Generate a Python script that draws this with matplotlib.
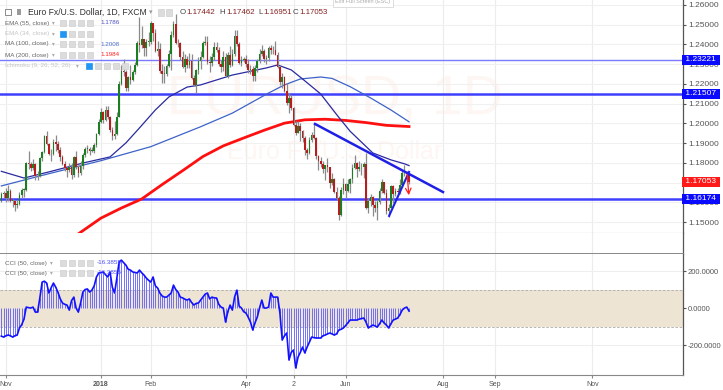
import matplotlib
matplotlib.use("Agg")
import matplotlib.pyplot as plt
import matplotlib.transforms as mtransforms
from matplotlib.patches import Rectangle
from matplotlib.ticker import MultipleLocator, FormatStrFormatter, FuncFormatter
import numpy as np
import pandas as pd

plt.rcParams['font.family'] = ['Liberation Sans', 'DejaVu Sans']

# EUR/USD daily bars (FXCM), 30 Oct 2017 .. 11 Jul 2018, open = previous close
first_open = 1.1608
highs = [1.1650, 1.1655, 1.1670, 1.1687, 1.1668, 1.1615, 1.1610, 1.1610, 1.1650, 1.1670,
         1.1670, 1.1805, 1.1862, 1.1805, 1.1820, 1.1800, 1.1760, 1.1830, 1.1860, 1.1940,
         1.1960, 1.1900, 1.1870, 1.1920, 1.1940, 1.1910, 1.1880, 1.1840, 1.1810, 1.1780,
         1.1800, 1.1800, 1.1835, 1.1860, 1.1790, 1.1810, 1.1850, 1.1880, 1.1890, 1.1880,
         1.1880, 1.1900, 1.1950, 1.2020, 1.2080, 1.2065, 1.2090, 1.2090, 1.2035, 1.1980,
         1.2010, 1.2060, 1.2215, 1.2295, 1.2325, 1.2270, 1.2240, 1.2295, 1.2270, 1.2310,
         1.2415, 1.2537, 1.2495, 1.2430, 1.2430, 1.2465, 1.2520, 1.2505, 1.2480, 1.2420,
         1.2405, 1.2300, 1.2290, 1.2300, 1.2370, 1.2470, 1.2520, 1.2556, 1.2430, 1.2410,
         1.2365, 1.2350, 1.2340, 1.2355, 1.2350, 1.2245, 1.2275, 1.2335, 1.2365, 1.2415,
         1.2445, 1.2445, 1.2340, 1.2355, 1.2410, 1.2410, 1.2385, 1.2320, 1.2365, 1.2355,
         1.2360, 1.2390, 1.2375, 1.2475, 1.2475, 1.2410, 1.2340, 1.2335, 1.2345, 1.2325,
         1.2295, 1.2290, 1.2295, 1.2325, 1.2375, 1.2395, 1.2375, 1.2345, 1.2390, 1.2395,
         1.2390, 1.2415, 1.2360, 1.2290, 1.2255, 1.2240, 1.2205, 1.2155, 1.2145, 1.2085,
         1.2010, 1.2010, 1.2000, 1.1965, 1.1935, 1.1875, 1.1930, 1.1955, 1.1995, 1.1930,
         1.1840, 1.1830, 1.1810, 1.1790, 1.1825, 1.1780, 1.1750, 1.1725, 1.1680, 1.1630,
         1.1680, 1.1725, 1.1700, 1.1720, 1.1725, 1.1795, 1.1840, 1.1805, 1.1810, 1.1800,
         1.1805, 1.1850, 1.1620, 1.1640, 1.1630, 1.1605, 1.1610, 1.1670, 1.1720, 1.1705,
         1.1665, 1.1590, 1.1690, 1.1690, 1.1670, 1.1670, 1.1720, 1.1765, 1.1790, 1.1760,
         1.17462]
lows = [1.1600, 1.1620, 1.1600, 1.1605, 1.1600, 1.1575, 1.1554, 1.1570, 1.1585, 1.1620,
        1.1625, 1.1655, 1.1770, 1.1760, 1.1765, 1.1715, 1.1715, 1.1730, 1.1810, 1.1850,
        1.1890, 1.1840, 1.1810, 1.1840, 1.1860, 1.1850, 1.1810, 1.1790, 1.1760, 1.1730,
        1.1755, 1.1720, 1.1730, 1.1770, 1.1730, 1.1740, 1.1770, 1.1830, 1.1850, 1.1840,
        1.1855, 1.1850, 1.1880, 1.1940, 1.2000, 1.2000, 1.2010, 1.2020, 1.1955, 1.1915,
        1.1920, 1.1940, 1.2030, 1.2195, 1.2240, 1.2165, 1.2165, 1.2200, 1.2215, 1.2250,
        1.2290, 1.2360, 1.2380, 1.2340, 1.2340, 1.2390, 1.2400, 1.2420, 1.2360, 1.2340,
        1.2255, 1.2205, 1.2205, 1.2240, 1.2285, 1.2270, 1.2440, 1.2400, 1.2385, 1.2320,
        1.2280, 1.2260, 1.2280, 1.2280, 1.2225, 1.2190, 1.2155, 1.2250, 1.2275, 1.2330,
        1.2395, 1.2300, 1.2260, 1.2290, 1.2320, 1.2360, 1.2290, 1.2260, 1.2265, 1.2240,
        1.2230, 1.2285, 1.2290, 1.2340, 1.2390, 1.2300, 1.2290, 1.2310, 1.2285, 1.2255,
        1.2250, 1.2215, 1.2215, 1.2260, 1.2305, 1.2340, 1.2310, 1.2300, 1.2315, 1.2350,
        1.2350, 1.2345, 1.2280, 1.2195, 1.2180, 1.2160, 1.2095, 1.2055, 1.2070, 1.1985,
        1.1940, 1.1950, 1.1910, 1.1905, 1.1840, 1.1820, 1.1845, 1.1905, 1.1920, 1.1820,
        1.1765, 1.1780, 1.1750, 1.1715, 1.1755, 1.1675, 1.1690, 1.1645, 1.1610, 1.1510,
        1.1530, 1.1640, 1.1620, 1.1650, 1.1645, 1.1700, 1.1770, 1.1730, 1.1760, 1.1740,
        1.1725, 1.1565, 1.1545, 1.1580, 1.1530, 1.1550, 1.1510, 1.1590, 1.1645, 1.1640,
        1.1540, 1.1528, 1.1570, 1.1595, 1.1630, 1.1635, 1.1640, 1.1680, 1.1735, 1.1705,
        1.16951]
closes = [1.1640, 1.1646, 1.1620, 1.1655, 1.1607, 1.1609, 1.1585, 1.1592, 1.1638, 1.1664,
          1.1664, 1.1797, 1.1793, 1.1772, 1.1795, 1.1732, 1.1735, 1.1822, 1.1855, 1.1934,
          1.1895, 1.1843, 1.1846, 1.1904, 1.1894, 1.1864, 1.1829, 1.1795, 1.1773, 1.1765,
          1.1780, 1.1740, 1.1828, 1.1777, 1.1747, 1.1784, 1.1842, 1.1872, 1.1872, 1.1861,
          1.1862, 1.1890, 1.1945, 1.2005, 1.2059, 1.2015, 1.2068, 1.2030, 1.1967, 1.1937,
          1.1947, 1.2034, 1.2200, 1.2265, 1.2262, 1.2178, 1.2236, 1.2221, 1.2260, 1.2298,
          1.2409, 1.2395, 1.2427, 1.2381, 1.2413, 1.2414, 1.2510, 1.2460, 1.2369, 1.2377,
          1.2265, 1.2250, 1.2251, 1.2291, 1.2354, 1.2449, 1.2505, 1.2408, 1.2406, 1.2337,
          1.2285, 1.2328, 1.2295, 1.2318, 1.2232, 1.2194, 1.2268, 1.2317, 1.2335, 1.2405,
          1.2410, 1.2313, 1.2307, 1.2336, 1.2389, 1.2370, 1.2303, 1.2288, 1.2336, 1.2240,
          1.2347, 1.2298, 1.2352, 1.2445, 1.2402, 1.2307, 1.2323, 1.2324, 1.2302, 1.2272,
          1.2277, 1.2239, 1.2281, 1.2318, 1.2353, 1.2369, 1.2327, 1.2331, 1.2380, 1.2370,
          1.2372, 1.2349, 1.2287, 1.2210, 1.2233, 1.2164, 1.2103, 1.2130, 1.2078, 1.1992,
          1.1953, 1.1988, 1.1960, 1.1924, 1.1866, 1.1849, 1.1918, 1.1941, 1.1926, 1.1836,
          1.1809, 1.1795, 1.1771, 1.1791, 1.1777, 1.1696, 1.1719, 1.1653, 1.1622, 1.1537,
          1.1663, 1.1693, 1.1659, 1.1694, 1.1716, 1.1775, 1.1801, 1.1769, 1.1781, 1.1778,
          1.1792, 1.1572, 1.1608, 1.1625, 1.1588, 1.1569, 1.1602, 1.1656, 1.1701, 1.1646,
          1.1554, 1.1570, 1.1685, 1.1644, 1.1655, 1.1654, 1.1690, 1.1746, 1.1751, 1.17442,
          1.17053]

# CCI(50, close), one value per bar
cci = [-152, -157, -150, -146, -150, -157, -150, -146, -108, -90,
       -60, 5, 2, 0, 5, -22, -22, 54, 140, 145,
       135, 81, 110, 135, 113, 85, 50, 27, 20, 16,
       -11, 40, 59, 0, -22, 27, 86, 100, 103, 86,
       97, 120, 168, 189, 192, 195, 180, 168, 195, 113,
       81, 162, 249, 259, 245, 232, 210, 205, 195, 192,
       189, 205, 190, 178, 162, 150, 140, 168, 120, 108,
       81, 65, 59, 59, 70, 81, 124, 100, 86, 59,
       55, 48, 43, 49, 30, 16, 25, 27, 43, 59,
       75, 81, 49, 59, 55, 54, 20, 5, 0, -76,
       -20, 16, -11, 60, 97, 10, 0, -20, -27, -50,
       -76, -119, -80, -49, 0, 43, 0, 0, 5, 81,
       59, 59, 59, -27, -173, -150, -135, -281, -240, -227,
       -324, -265, -240, -211, -243, -211, -185, -157, -160, -162,
       -162, -162, -150, -146, -140, -135, -140, -146, -140, -119,
       -115, -108, -95, -80, -65, -65, -65, -65, -60, -57,
       -54, -76, -108, -100, -92, -97, -103, -85, -65, -81,
       -92, -108, -85, -65, -60, -54, -35, -11, 0, 5,
       -16.3855]

# moving averages (bar index, value)
ema55_idx = [0, 10, 21, 36, 48, 55, 61, 68, 74, 82, 88, 102, 117, 122, 128, 133, 141, 148, 154, 159, 164, 172, 178, 180]
ema55_val = [1.1757, 1.1723, 1.1754, 1.1799, 1.1830, 1.1901, 1.1977, 1.2068, 1.2134, 1.2184, 1.2195, 1.2245,
             1.2281, 1.2296, 1.2271, 1.2225, 1.2149, 1.2045, 1.1960, 1.1905, 1.1850, 1.1815, 1.1795, 1.1786]
ma100_idx = [0, 21, 44, 66, 88, 102, 118, 125, 132, 141, 146, 154, 163, 172, 180]
ma100_val = [1.1683, 1.1745, 1.1811, 1.1882, 1.1983, 1.2052, 1.2154, 1.2195, 1.2225, 1.2235, 1.2228, 1.2186,
             1.2129, 1.2068, 1.2008]
ma200_idx = [34, 44, 53, 62, 71, 80, 89, 98, 107, 116, 125, 134, 143, 152, 161, 170, 180]
ma200_val = [1.1440, 1.1520, 1.1571, 1.1617, 1.1690, 1.1760, 1.1832, 1.1886, 1.1926, 1.1965, 1.2001, 1.2018,
             1.2021, 1.2015, 1.2004, 1.1990, 1.1984]

# drawings
levels = [1.23221, 1.21507, 1.16174]
down_x, down_y = [138.5, 195.0], [1.1997, 1.1652]
up_x, up_y = [171.2, 180.0], [1.1531, 1.1754]
arrow_x, arrow_y = [179.1, 180.0], [1.1754, 1.1622]
last_price = 1.17053

tick_months = ['2017-11', '2018-01', '2018-02', '2018-04', '2018-05', '2018-06', '2018-08', '2018-09', '2018-11']
tick_labels = ['Nov', '2018', 'Feb', 'Apr', '2', 'Jun', 'Aug', 'Sep', 'Nov']

W, H = 723, 390

# trading days (no bars on Christmas / New Year)
days = pd.bdate_range('2017-10-30', '2018-11-30')
days = days.drop(pd.to_datetime(['2017-12-25', '2018-01-01']))
tick_pos = [int(np.searchsorted(days, pd.Timestamp(m + '-01'))) for m in tick_months]

idx = np.arange(len(closes))
closes_a = np.array(closes)
opens_a = np.concatenate([[first_open], closes_a[:-1]])
highs_a = np.array(highs)
lows_a = np.array(lows)

fig = plt.figure(figsize=(W / 100, H / 100), dpi=100)
fig.patch.set_facecolor('white')

ax = fig.add_axes([0, 1 - 233 / H, 683 / W, 233 / H])
ax_mid = fig.add_axes([0, 1 - 254 / H, 683 / W, 21 / H])
ax_cci = fig.add_axes([0, 1 - 375 / H, 683 / W, 121 / H])

xlim = (-0.59, 300.96)
for a in (ax, ax_mid, ax_cci):
    a.set_xlim(*xlim)
    a.set_xticks(tick_pos)
    a.grid(True, axis='x', color='#ececec', lw=0.8)
    a.set_axisbelow(True)
    for s in ('top', 'left'):
        a.spines[s].set_visible(False)
    a.spines['right'].set_color('#555555')
    a.spines['right'].set_linewidth(0.9)
    a.spines['bottom'].set_color('#9a9a9a')
    a.tick_params(axis='x', length=0, labelbottom=False)


# the scale label under the last-price box is covered in the original
def price_label(v, pos):
    if abs(v - last_price) < 0.001:
        return ''
    return '%.5f' % v


# ---- price pane
ax.set_ylim(1.14444, 1.26253)
ax.yaxis.set_major_locator(MultipleLocator(0.01))
ax.yaxis.set_major_formatter(FuncFormatter(price_label))
ax.yaxis.tick_right()
ax.tick_params(axis='y', length=2, pad=1.5, labelsize=6, colors='#555555')
ax.grid(True, axis='y', color='#f0f0f0', lw=0.8)

ax.text(335 / 683, 1 - 100 / 233, 'EURUSD, 1D', transform=ax.transAxes, ha='center', va='center',
        fontsize=40, color='#fef6f2', zorder=0)
ax.text(335 / 683, 1 - 152 / 233, 'Euro Fx/U.S. Dollar', transform=ax.transAxes, ha='center', va='center',
        fontsize=18, color='#fef6f2', zorder=0)

ax.axhline(levels[0], color='#7a7aff', lw=1.0, zorder=2)
ax.axhline(levels[1], color='#3f3fff', lw=1.8, zorder=2)
ax.axhline(levels[2], color='#3f3fff', lw=1.8, zorder=2)

ax.plot(ma200_idx, ma200_val, color='#ff1010', lw=2.0, zorder=3)
ax.plot(ma100_idx, ma100_val, color='#3d63c9', lw=0.9, zorder=3)
ax.plot(ema55_idx, ema55_val, color='#2a2aa0', lw=0.9, zorder=3)

up = closes_a >= opens_a
ax.vlines(idx, lows_a, highs_a, color='#8a8a8a', lw=0.9, zorder=4)
body_lo = np.minimum(opens_a, closes_a)
body_h = np.maximum(np.abs(closes_a - opens_a), 0.0003)
ax.bar(idx[up], body_h[up], bottom=body_lo[up], width=0.72, color='#1b7f22', lw=0, zorder=5)
ax.bar(idx[~up], body_h[~up], bottom=body_lo[~up], width=0.72, color='#b81c1c', lw=0, zorder=5)

ax.plot(down_x, down_y, color='#1f1fe6', lw=1.8, zorder=6)
ax.plot(up_x, up_y, color='#1f1fe6', lw=1.5, zorder=6)
ax.annotate('', xy=(arrow_x[1], arrow_y[1]), xytext=(arrow_x[0], arrow_y[0]),
            arrowprops=dict(arrowstyle='->', color='#ff2020', lw=0.9), zorder=7)

ytr = mtransforms.blended_transform_factory(ax.transAxes, ax.transData)
for lv in levels:
    ax.text(1.0, lv, ' %.5f ' % lv, transform=ytr, ha='left', va='center', fontsize=6, color='white',
            bbox=dict(boxstyle='square,pad=0.18', fc='#0a0aff', ec='none'), clip_on=False, zorder=10)
ax.text(1.0, last_price, ' %.5f ' % last_price, transform=ytr, ha='left', va='center', fontsize=6, color='white',
        bbox=dict(boxstyle='square,pad=0.18', fc='#ff1a1a', ec='none'), clip_on=False, zorder=10)

# ---- empty middle pane
ax_mid.set_ylim(0, 1)
ax_mid.set_yticks([])
ax_mid.spines['bottom'].set_color('#888888')
ax_mid.spines['bottom'].set_linewidth(1.4)

# ---- CCI pane
ax_cci.set_ylim(-362, 292)
ax_cci.set_yticks([-200, 0, 200])
ax_cci.yaxis.set_major_formatter(FormatStrFormatter('%.4f'))
ax_cci.yaxis.tick_right()
ax_cci.tick_params(axis='y', length=2, pad=1.5, labelsize=5.5, colors='#555555')
ax_cci.grid(True, axis='y', color='#eeeeee', lw=0.8)
ax_cci.axhspan(-100, 100, color='#ede4d3', lw=0, zorder=1)
ax_cci.axhline(100, color='#aaaaaa', lw=0.6, ls=(0, (3, 2)), zorder=1)
ax_cci.axhline(-100, color='#aaaaaa', lw=0.6, ls=(0, (3, 2)), zorder=1)
ax_cci.vlines(idx, 0, cci, color='#5a5aff', lw=0.6, zorder=2)
ax_cci.plot(idx, cci, color='#1212ff', lw=1.2, zorder=3)
ax_cci.spines['bottom'].set_color('#888888')
ax_cci.tick_params(axis='x', length=2, color='#888888', labelbottom=True, labelsize=5, labelcolor='#555555', pad=2)
ax_cci.set_xticklabels(tick_labels)
ax_cci.get_xticklabels()[1].set_fontweight('bold')


# ---- legend overlays (figure pixel coordinates)
def px(x, y):
    return x / W, 1 - y / H


def icon(x, y, fc='#dcdcdc', ec='#cfcfcf', s=6):
    fig.add_artist(Rectangle(px(x, y + s / 2), s / W, s / H, transform=fig.transFigure,
                             fc=fc, ec=ec, lw=0.5, zorder=20))


fig.add_artist(Rectangle(px(5, 15), 6 / W, 6 / H, transform=fig.transFigure, fc='white', ec='#777777', lw=0.6))
fig.add_artist(Rectangle(px(17, 15), 4 / W, 6 / H, transform=fig.transFigure, fc='#9a9a9a', ec='none'))
fig.text(*px(28, 12.5), 'Euro Fx/U.S. Dollar, 1D, FXCM', fontsize=6.2, color='#333333', va='center')
fig.text(*px(149, 12.5), '▾', fontsize=5, color='#999999', va='center')
icon(158, 12.5)
icon(166, 12.5)
# letter, value, x where the value starts
ohlc = [('O', '1.17442', 186), ('H', '1.17462', 226), ('L', '1.16951', 263), ('C', '1.17053', 299)]
for k, v, x in ohlc:
    fig.text(*px(x - 0.6, 12.5), k, fontsize=5.7, color='#444444', va='center', ha='right')
    fig.text(*px(x, 12.5), v, fontsize=5.7, color='#862020', va='center')

rows = [('EMA (55, close)', 23, '#666666', '1.1786', '#4d4dc2', False),
        ('EMA (34, close)', 34, '#c4c4c4', None, None, True),
        ('MA (100, close)', 44, '#666666', '1.2008', '#4a6fcc', False),
        ('MA (200, close)', 55, '#666666', '1.1984', '#ff2020', False)]
for name, y, col, val, vcol, hidden in rows:
    fig.text(*px(5, y), name, fontsize=4.5, color=col, va='center')
    fig.text(*px(52, y), '▾', fontsize=4, color='#aaaaaa', va='center')
    for j in range(4):
        if hidden and j == 0:
            icon(60 + 9 * j, y, fc='#2196f3', ec='#2196f3')
        else:
            icon(60 + 9 * j, y)
    if val:
        fig.text(*px(100, y), val, fontsize=4.5, color=vcol, va='center')
fig.text(*px(5, 66), 'Ichimoku (9, 26, 52, 26)', fontsize=4.5, color='#c4c4c4', va='center')
fig.text(*px(76, 66), '▾', fontsize=4, color='#aaaaaa', va='center')
for j in range(5):
    if j == 0:
        icon(86 + 9 * j, 66, fc='#2196f3', ec='#2196f3')
    else:
        icon(86 + 9 * j, 66)

for y in (263, 273):
    fig.text(*px(5, y), 'CCI (50, close)', fontsize=4.5, color='#666666', va='center')
    fig.text(*px(50, y), '▾', fontsize=4, color='#aaaaaa', va='center')
    for j in range(4):
        icon(60 + 9 * j, y)
    fig.text(*px(97, y), '-16.3855', fontsize=4.5, color='#4a4aff', va='center')

fig.text(*px(363, 2), 'Exit Full Screen (ESC)', fontsize=4, color='#aaaaaa', ha='center', va='center',
         bbox=dict(boxstyle='square,pad=0.5', fc='white', ec='#d8d8d8', lw=0.6))

fig.savefig('out.png', dpi=100, facecolor='white')
